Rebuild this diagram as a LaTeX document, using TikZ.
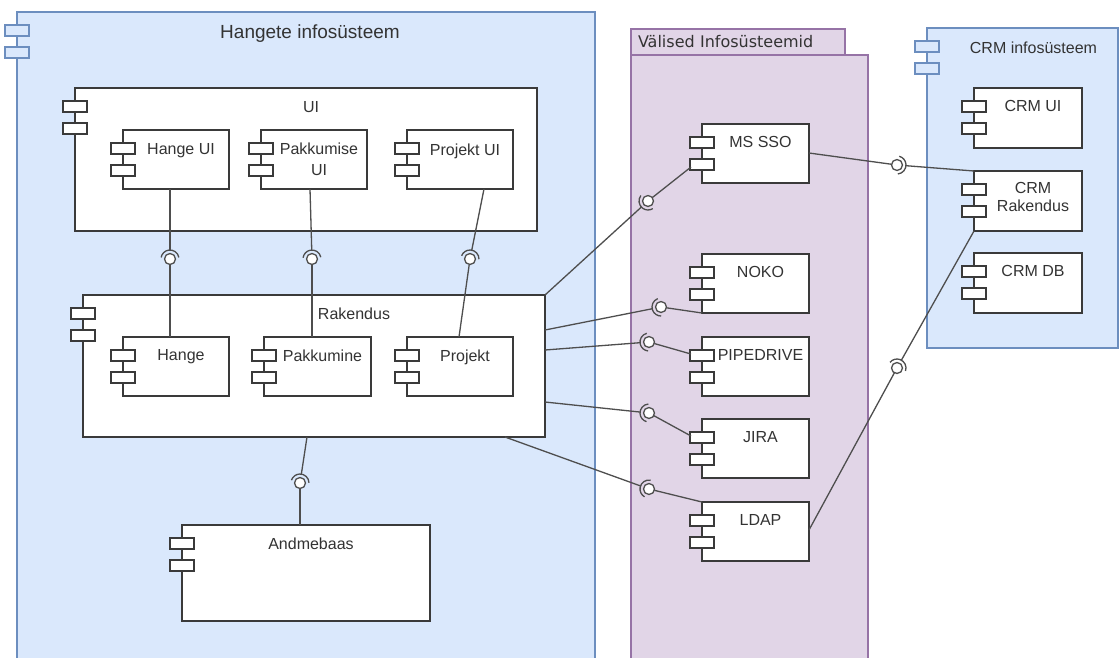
\documentclass[tikz,border=0pt]{standalone}
\usepackage{fontspec}
\setmainfont{Liberation Sans}
\newfontfamily\vfont{DejaVu Sans}
\usetikzlibrary{calc,positioning}

\definecolor{hangFill}{HTML}{DAE8FC}
\definecolor{hangLine}{HTML}{6C8EBF}
\definecolor{extFill}{HTML}{E1D5E7}
\definecolor{extLine}{HTML}{9673A6}
\definecolor{boxLine}{HTML}{3A3A3A}
\definecolor{txt}{HTML}{333333}

\newcommand{\cicons}[2]{%
  \draw[#2] ($(#1.north west)+(-12,13)$) rectangle +(24,11);
  \draw[#2] ($(#1.north west)+(-12,35)$) rectangle +(24,11);
}
\newcommand{\lolli}[3]{%
  \coordinate (#1r) at #2;
  \coordinate (#1p) at #3;
  \draw[conn, shorten >=9pt] (#1r) -- (#1);
  \draw[conn, shorten >=5.5pt] (#1p) -- (#1);
  \draw[conn] let \p1=($(#1r)-(#1)$), \n1={atan2(\y1,\x1)} in
    ($(#1)+(\n1-80:9pt)$) arc[start angle=\n1-80, end angle=\n1+80, radius=9pt];
  \draw[conn, fill=white] (#1) circle[radius=5.5pt];
}

\begin{document}
\begin{tikzpicture}[x=1pt,y=-1pt,
  comp/.style={draw=boxLine, fill=white, line width=1.2pt, anchor=north west, inner sep=0pt, outer sep=0pt},
  sysbox/.style={comp, draw=hangLine, fill=hangFill},
  icon/.style={draw=boxLine, fill=white, line width=1.2pt},
  sysicon/.style={draw=hangLine, fill=hangFill, line width=1.2pt},
  lbl/.style={anchor=north, yshift=-9pt, xshift=5pt, text=txt, font=\fontsize{16}{18}\selectfont, align=center},
  conn/.style={draw=boxLine!90, line width=1.3pt},
]
\clip (0,0) rectangle (1120,657);
\fill[white] (0,0) rectangle (1120,657);

\node[sysbox, minimum width=578pt, minimum height=680pt,
  label={[lbl, xshift=-1pt, font=\fontsize{19}{22}\selectfont]north:Hangete infosüsteem}] (hangete) at (17,12) {};
\cicons{hangete}{sysicon}

\node[comp, draw=extLine, fill=extFill, minimum width=237pt, minimum height=640pt] (valbody) at (631,55) {};
\node[comp, draw=extLine, fill=extFill, minimum width=214pt, minimum height=26pt, text width=200pt, align=left,
  text=txt, font=\vfont\fontsize{16}{18}\selectfont] (valtab) at (631,29) {Välised Infosüsteemid};

\node[sysbox, minimum width=191pt, minimum height=320pt,
  label={[lbl, xshift=6pt, yshift=-1pt]north:CRM infosüsteem}] (crm) at (927,28) {};
\cicons{crm}{sysicon}

\node[comp, minimum width=462pt, minimum height=143pt, label={[lbl, yshift=-1pt]north:UI}] (ui) at (75,88) {};
\cicons{ui}{icon}
\node[comp, minimum width=106pt, minimum height=59pt, label={[lbl, yshift=-1pt]north:Hange UI}] (hangeui) at (123,130) {};
\cicons{hangeui}{icon}
\node[comp, minimum width=106pt, minimum height=59pt, label={[lbl]north:Pakkumise\\[3pt]UI}] (pakkui) at (261,130) {};
\cicons{pakkui}{icon}
\node[comp, minimum width=106pt, minimum height=59pt, label={[lbl, yshift=-1pt]north:Projekt UI}] (projui) at (407,130) {};
\cicons{projui}{icon}

\node[comp, minimum width=462pt, minimum height=142pt, label={[lbl, xshift=35pt]north:Rakendus}] (rak) at (83,295) {};
\cicons{rak}{icon}
\node[comp, minimum width=106pt, minimum height=59pt, label={[lbl]north:Hange}] (hange) at (123,337) {};
\cicons{hange}{icon}
\node[comp, minimum width=107pt, minimum height=59pt, label={[lbl]north:Pakkumine}] (pakk) at (264,337) {};
\cicons{pakk}{icon}
\node[comp, minimum width=106pt, minimum height=59pt, label={[lbl]north:Projekt}] (proj) at (407,337) {};
\cicons{proj}{icon}

\node[comp, minimum width=248pt, minimum height=96pt, label={[lbl]north:Andmebaas}] (andme) at (182,525) {};
\cicons{andme}{icon}

\node[comp, minimum width=107pt, minimum height=59pt, label={[lbl]north:MS SSO}] (mssso) at (702,124) {};
\cicons{mssso}{icon}
\node[comp, minimum width=107pt, minimum height=59pt, label={[lbl]north:NOKO}] (noko) at (702,254) {};
\cicons{noko}{icon}
\node[comp, minimum width=107pt, minimum height=59pt, label={[lbl]north:PIPEDRIVE}] (pipe) at (702,337) {};
\cicons{pipe}{icon}
\node[comp, minimum width=107pt, minimum height=59pt, label={[lbl]north:JIRA}] (jira) at (702,419) {};
\cicons{jira}{icon}
\node[comp, minimum width=107pt, minimum height=59pt, label={[lbl]north:LDAP}] (ldap) at (702,502) {};
\cicons{ldap}{icon}

\node[comp, minimum width=108pt, minimum height=60pt, label={[lbl]north:CRM UI}] (crmui) at (974,88) {};
\cicons{crmui}{icon}
\node[comp, minimum width=108pt, minimum height=60pt, label={[lbl, yshift=1pt]north:CRM\\Rakendus}] (crmrak) at (974,171) {};
\cicons{crmrak}{icon}
\node[comp, minimum width=108pt, minimum height=60pt, label={[lbl]north:CRM DB}] (crmdb) at (974,253) {};
\cicons{crmdb}{icon}

\coordinate (i1) at (170,259);
\coordinate (i2) at (312,259);
\coordinate (i3) at (470,259);
\coordinate (i4) at (300,483);
\coordinate (i5) at (648,201);
\coordinate (i6) at (661,307);
\coordinate (i7) at (649,342);
\coordinate (i8) at (649,413);
\coordinate (i9) at (649,489);
\coordinate (i10) at (897,165);
\coordinate (i11) at (897,368);

\lolli{i1}{(hangeui.south -| i1)}{(hange.north -| i1)}
\lolli{i2}{($(pakkui.south)+(-4,0)$)}{(pakk.north -| i2)}
\lolli{i3}{($(projui.south)+(24,0)$)}{($(proj.north)+(-1,0)$)}
\lolli{i4}{($(rak.south)+(-7,0)$)}{(andme.north -| i4)}
\lolli{i5}{(rak.north east)}{($(mssso.north west)+(-11,43)$)}
\lolli{i6}{($(rak.north east)+(0,35)$)}{(noko.south west)}
\lolli{i7}{($(rak.north east)+(0,55)$)}{($(pipe.north west)+(-11,17)$)}
\lolli{i8}{($(rak.north east)+(0,107)$)}{($(jira.north west)+(-11,17)$)}
\lolli{i9}{($(rak.south east)+(-40,0)$)}{(ldap.north west)}
\lolli{i10}{(crmrak.north west)}{($(mssso.north east)+(0,29)$)}
\lolli{i11}{(crmrak.south west)}{($(ldap.north east)+(0,28)$)}
\end{tikzpicture}
\end{document}
